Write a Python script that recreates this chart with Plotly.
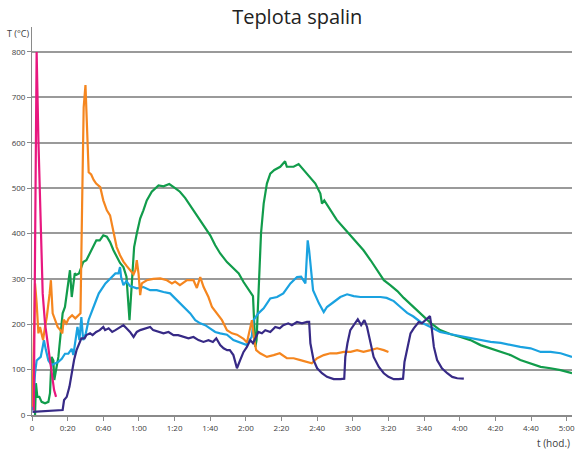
import plotly.graph_objects as go

# time in minutes, temperature in °C
magenta_pts = [(1.0, 10), (2.6, 800), (3.6, 605), (4.9, 385), (6.0, 268), (7.3, 202), (8.6, 165),
               (10.1, 128), (11.4, 92), (12.4, 55), (13.5, 40)]

orange_pts = [(0.3, 18), (1.7, 290), (2.6, 247), (3.6, 180), (4.5, 194), (6.2, 165), (7.3, 194), (8.3, 216),
              (9.9, 268), (10.6, 297), (11.6, 224), (13.1, 205), (14.4, 194), (15.9, 187), (17, 180), (17.8, 210),
              (19.3, 202), (20.6, 213), (22.5, 220), (24.3, 213), (26.2, 220), (27.2, 224), (28.1, 458), (29, 678),
              (30, 727), (31, 605), (31.8, 535), (33.2, 530), (34.6, 518), (36, 510), (38.3, 502), (40, 473),
              (42, 451), (43.8, 440), (45.7, 400), (47.5, 370), (49.4, 352), (51.3, 338), (53.2, 328), (55, 319),
              (57, 310), (58, 319), (58.8, 341), (59.8, 311), (60.7, 264), (61.6, 290), (64.4, 297), (68, 300),
              (72, 301), (75.7, 297), (78.5, 290), (80.3, 294), (83, 286), (87, 297), (90.6, 297), (92.5, 280),
              (94.4, 304), (96.3, 282), (99, 260), (101, 238), (103.8, 224), (106.6, 209), (109.4, 187),
              (112.2, 180), (115, 177), (118.7, 168), (120.6, 160), (122.5, 195), (123.4, 209), (124.7, 165),
              (125.8, 143), (128, 136), (131.8, 128), (135.6, 132), (139, 136), (143, 125), (146.8, 125),
              (150.6, 121), (154.3, 117), (157, 114), (160, 125), (163.7, 132), (167.4, 136), (171, 136),
              (175, 139), (178.8, 139), (182.4, 143), (186, 139), (190, 143), (193.6, 147), (197.4, 143), (200, 139)]

green_pts = [(1.7, 0), (2.2, 70), (3, 40), (4.1, 40), (5.4, 29), (7.3, 26), (9.2, 29), (10.1, 48), (11, 128),
             (12, 120), (12.5, 77), (13.5, 99), (14.8, 128), (16.1, 180), (17.2, 224), (18.5, 238), (19.5, 268),
             (20.4, 290), (21.3, 319), (22.3, 260), (23.2, 290), (24, 312), (25, 309), (26.4, 312), (27.7, 326),
             (28.7, 337), (30.5, 341), (32.4, 356), (34.3, 370), (36.1, 385), (38, 385), (40, 396), (42, 393),
             (43.8, 381), (45.7, 363), (47.5, 348), (49.4, 335), (51.3, 326), (53, 305), (54.7, 209), (56, 300),
             (57.3, 370), (58.8, 400), (60.7, 433), (62.5, 451), (64.4, 473), (67.2, 492), (71, 506), (73.8, 504),
             (77, 509), (80.3, 500), (83, 492), (86, 478), (88.8, 462), (91.6, 444), (94.4, 430), (97.2, 412),
             (100, 396), (102.8, 374), (105.6, 356), (109.4, 337), (113, 323), (116, 312), (118.7, 293),
             (121.5, 275), (124, 262), (124.6, 210), (125.3, 150), (126, 165), (127.2, 290), (128.5, 400),
             (130, 466), (131.8, 510), (133.7, 532), (136, 540), (139.3, 547), (141, 554), (142, 559), (143, 547),
             (146.8, 547), (149.6, 553), (152.4, 540), (156, 522), (159, 510), (161.8, 488), (162.7, 466),
             (164, 473), (167.4, 451), (171, 430), (175, 412), (178.7, 396), (182.4, 381), (186, 363), (190, 341),
             (193.6, 319), (197.4, 297), (201, 286), (205, 273), (208.6, 258), (212.4, 244), (216, 231),
             (220, 218), (223.6, 203), (229, 187), (235, 178), (240.4, 172), (246, 165), (251.7, 154),
             (257.3, 147), (263, 139), (268.5, 132), (274, 121), (279.8, 114), (285.4, 106), (291, 103),
             (296.6, 99), (303, 92)]

blue_pts = [(0.5, 10), (1.7, 92), (2.6, 120), (3.6, 124), (4.9, 128), (6, 150), (6.7, 165), (7.8, 143), (9.2, 120),
            (11, 110), (12.9, 114), (14.8, 117), (16.7, 124), (18.5, 135), (20.4, 135), (22.3, 146), (23.2, 132),
            (24.7, 172), (25.5, 194), (26.6, 165), (27.7, 216), (28.7, 165), (30.2, 180), (31.8, 210),
            (33.7, 231), (35.6, 249), (37.5, 268), (39.3, 279), (41.2, 290), (43, 297), (45, 304), (46.8, 312),
            (48.5, 312), (49.4, 326), (50, 304), (51.3, 286), (53, 295), (55, 284), (58.8, 279), (62.5, 282),
            (66.3, 275), (70, 275), (73.8, 271), (77.5, 268), (80.3, 257), (83, 246), (86, 235), (88.8, 224),
            (91.6, 209), (94.4, 202), (97.2, 198), (100, 191), (102.8, 183), (105.6, 180), (109.4, 177),
            (113, 165), (116, 161), (118.7, 158), (120.6, 154), (122, 165), (123.3, 172), (124.3, 209),
            (127, 224), (130, 235), (133.7, 257), (137.5, 260), (141, 268), (145, 290), (148.7, 304), (151, 305),
            (153.4, 290), (154.7, 385), (155.5, 363), (157.7, 275), (161, 246), (163.7, 227), (165.5, 238),
            (169.3, 249), (173, 260), (176.8, 266), (180.5, 262), (184.3, 260), (188, 260), (191.8, 260),
            (195.5, 260), (199, 258), (203, 251), (206.7, 238), (210.5, 225), (214, 217), (218, 205),
            (223.6, 194), (229, 183), (235, 178), (240.4, 174), (246, 170), (251.7, 165), (257.3, 161),
            (263, 159), (268.5, 154), (274, 150), (279.8, 147), (285.4, 139), (291, 139), (296.6, 136), (303, 128)]

purple_pts = [(0.3, 7), (5, 8), (10, 8), (15, 9), (17.2, 11), (18, 33), (19.5, 40), (21, 62), (22.3, 92),
              (23.6, 121), (25, 143), (26.6, 158), (27.7, 169), (29.5, 169), (30.5, 176), (32.6, 180), (34, 176),
              (36, 183), (38, 187), (40, 194), (41, 187), (43, 191), (45, 183), (46.8, 187), (49.4, 194),
              (51.3, 198), (53, 191), (55, 183), (57, 172), (58.8, 183), (60.7, 187), (63.5, 191), (66.3, 194),
              (68, 187), (71, 183), (73.8, 180), (76.6, 183), (79.4, 176), (82, 176), (85, 172), (87.8, 169),
              (90.6, 172), (93.4, 165), (96.2, 161), (99, 165), (101.5, 161), (103.4, 169), (105.6, 154),
              (107.5, 147), (109.5, 143), (111, 143), (113, 132), (115, 103), (116.8, 121), (118.7, 139),
              (120.6, 150), (122.5, 165), (124, 158), (125.8, 172), (127, 183), (129, 180), (130.9, 187),
              (133.7, 183), (136.5, 194), (139, 191), (141, 198), (143.8, 202), (145.8, 198), (148.7, 205),
              (151.5, 202), (154.3, 205), (155.5, 205), (156.2, 158), (158, 121), (160, 103), (162.7, 92),
              (165.5, 84), (169.3, 79), (173, 79), (175.2, 80), (175.8, 128), (177, 158), (178.6, 187),
              (180.5, 198), (182.8, 211), (184.7, 198), (186.5, 209), (188, 194), (190, 158), (191.7, 128),
              (194.6, 106), (197.4, 92), (200, 84), (203, 79), (205.8, 79), (208.2, 80), (209, 117), (210.5, 147),
              (212.4, 180), (214.2, 191), (217, 205), (218.8, 202), (220.8, 209), (223.3, 218), (224.2, 194),
              (225.5, 150), (227.3, 121), (230, 103), (233, 92), (235.8, 84), (238.6, 81), (242.3, 80)]

x_tick_vals = [0, 20, 40, 60, 80, 100, 120, 140, 160, 180, 200, 220, 240, 260, 280, 300]
x_tick_text = ["0", "0:20", "0:40", "1:00", "1:20", "1:40", "2:00", "2:20", "2:40", "3:00", "3:20",
               "3:40", "4:00", "4:20", "4:40", "5:00"]
y_tick_vals = [0, 100, 200, 300, 400, 500, 600, 700, 800]

series = [
    (green_pts, "#119c4b"),
    (blue_pts, "#1aa2e0"),
    (orange_pts, "#f5861f"),
    (purple_pts, "#372a86"),
    (magenta_pts, "#e8177f"),
]

fig = go.Figure()
for pts, color in series:
    xs = [p[0] for p in pts]
    ys = [p[1] for p in pts]
    fig.add_trace(go.Scatter(x=xs, y=ys, mode="lines", line=dict(color=color, width=2.2),
                             showlegend=False, hoverinfo="skip"))

font_family = "Open Sans, Noto Sans, sans-serif"
fig.update_layout(
    width=575, height=450,
    margin=dict(l=32, r=3, t=27, b=35, autoexpand=False),
    paper_bgcolor="white", plot_bgcolor="white",
    title=dict(text="Teplota spalin", x=0.517, xanchor="center", yref="container", y=0.962, yanchor="middle",
               font=dict(family=font_family, size=20, color="#222222")),
    font=dict(family=font_family, color="#404040"),
)
fig.update_xaxes(
    range=[0, 303], tickvals=x_tick_vals, ticktext=x_tick_text, automargin=False,
    ticklabeloverflow="allow",
    showgrid=False, zeroline=False, showline=True, linecolor="#8a8a8a", linewidth=2,
    ticks="outside", ticklen=4, tickcolor="#8a8a8a", tickwidth=1,
    tickfont=dict(size=8, color="#404040"),
)
fig.update_yaxes(
    range=[0, 855], tickvals=y_tick_vals, automargin=False,
    showgrid=True, gridcolor="#9a9a9a", gridwidth=1.6, zeroline=False,
    showline=True, linecolor="#8a8a8a", linewidth=1,
    ticks="outside", ticklen=4, tickcolor="#8a8a8a",
    tickfont=dict(size=8, color="#404040"),
)
fig.add_annotation(text="T (°C)", xref="paper", yref="paper", x=-0.026, y=0.982, xanchor="center",
                   yanchor="middle", showarrow=False, font=dict(size=9, color="#404040"))
fig.add_annotation(text="t (hod.)", xref="paper", yref="paper", x=1.0, y=-0.072, xanchor="right",
                   yanchor="middle", showarrow=False, font=dict(size=10, color="#404040"))

# remove the default page margin so the 575x450 figure fills the window exactly
fig.write_html("out.html", config={"displayModeBar": False},
               post_script="document.body.style.margin='0';document.body.style.overflow='hidden';")
